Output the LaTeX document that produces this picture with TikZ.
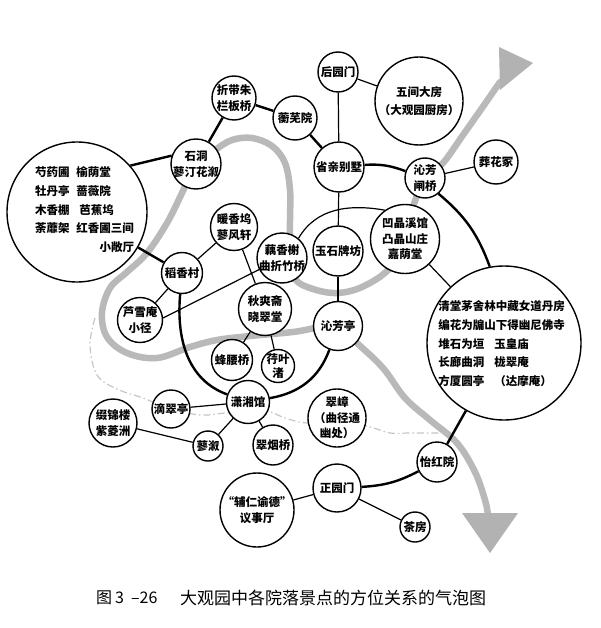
\documentclass[tikz,border=0pt]{standalone}
\usepackage{fontspec}
\newfontfamily\cjk{Noto Sans CJK SC}
\usetikzlibrary{calc}
\tikzset{
 bub/.style={circle, draw, line width=1.4pt, fill=white, inner sep=0pt},
 lbl/.style={align=center, inner sep=0pt, font=\cjk\bfseries\fontsize{11.5}{15.5}\selectfont},
 lnk/.style={line width=1.2pt},
 thk/.style={line width=2.4pt},
 stream/.style={draw=gray!55, line width=6.5pt, line cap=round, line join=round},
 dstream/.style={draw=gray!45, line width=1.2pt, dash pattern=on 7pt off 3pt on 1.5pt off 3pt},
 headfill/.style={fill=gray!60},
}
\newcommand\mybub[5][]{\node[bub, minimum size=#4pt] (#2) at (#3) {}; \node[lbl,#1] (#2-t) at (#2) {#5};}
\begin{document}
\begin{tikzpicture}[x=1pt,y=-1pt]
\fill[white] (0,0) rectangle (600,628);
\path[use as bounding box] (0,0) rectangle (600,628);

% streams
\draw[stream] plot[smooth, tension=0.6] coordinates {(500,82) (482,108) (463,135) (443,163) (425,178) (412,210) (402,245) (388,270) (362,287) (337,293) (313,289) (295,279) (290,255) (290,220) (290,190) (285,163) (272,146) (252,138) (232,140) (215,150) (196,164) (182,193) (167,223) (147,253) (127,272) (110,288) (102,313) (107,337) (127,353) (157,358) (190,347) (217,340) (250,336) (293,332) (338,326) (358,344) (383,368) (405,398) (430,420) (457,443) (475,472) (485,500) (488,515)};
\fill[headfill] (499,47) -- (533,63) -- (500,90) -- cycle;
\fill[headfill] (462,513) -- (518,513) -- (490,553) -- cycle;
\draw[dstream] plot[smooth, tension=0.6] coordinates {(95,318) (90,345) (97,375) (117,389) (143,398) (171,409) (200,415) (225,413) (250,411) (270,412) (285,418) (307,423) (337,420) (370,427) (390,433) (410,433) (447,433)};

% bubbles
\node[bub, minimum size=140pt] (left) at (77,212) {};
\node[lbl, font=\cjk\bfseries\fontsize{11.5}{18.7}\selectfont] (left-t) at (84.5,210.5) {\begin{tabular}{@{}l@{\hspace{7pt}}l@{}}芍药圃&榆荫堂\\牡丹亭&蔷薇院\\木香棚&\hspace{3pt}芭蕉坞\\荼蘼架&红香圃三间\\\multicolumn{2}{@{}r@{}}{小敞厅}\end{tabular}};
\node[bub, minimum size=154pt] (right) at (504,343) {};
\node[lbl, font=\cjk\bfseries\fontsize{11.5}{18.7}\selectfont] (right-t) at (501.5,344.5) {\begin{tabular}{@{}l@{\hspace{10pt}}l@{}}\multicolumn{2}{@{}l@{}}{清堂茅舍林中藏女道丹房}\\\multicolumn{2}{@{}l@{}}{编花为牖山下得幽尼佛寺}\\堆石为垣&玉皇庙\\长廊曲洞&栊翠庵\\方厦圆亭&（达摩庵）\end{tabular}};

\mybub{houyuanmen}{338,72}{40}{后园门}
\mybub[font=\cjk\bfseries\fontsize{11.5}{18}\selectfont]{wujian}{419,101}{88}{五间大房\\（大观园厨房）}
\mybub{zhedai}{234,98}{44}{折带朱\\栏板桥}
\mybub{hengwu}{295,118}{44}{蘅芜院}
\mybub{shengqin}{339,167}{50}{省亲别墅}
\mybub{shidong}{196,164}{50}{石洞\\蓼汀花溆}
\mybub{zhaqiao}{425,178}{40}{沁芳\\闸桥}
\mybub{zanghua}{496,162}{44}{葬花冢}
\mybub{aojing}{405,239}{69}{凹晶溪馆\\凸晶山庄\\嘉荫堂}
\mybub{yushi}{338,251}{50}{玉石牌坊}
\mybub{nuanxiang}{234,227}{47}{暖香坞\\蓼风轩}
\mybub{ouxiang}{282,258}{50}{藕香榭\\曲折竹桥}
\mybub{daoxiang}{182,273}{41}{稻香村}
\mybub{luxue}{140,320}{45}{芦雪庵\\小径}
\mybub{qiushuang}{265,309}{53}{秋爽斋\\晓翠堂}
\mybub{qinfangting}{338,326}{49}{沁芳亭}
\mybub{fengyao}{232,360}{41}{蜂腰桥}
\mybub[font=\cjk\bfseries\fontsize{11.5}{14}\selectfont]{xingye}{278,366}{33}{荇叶\\渚}
\mybub{xiaoxiang}{248,402}{43}{潇湘馆}
\mybub{dicui}{171,409}{38}{滴翠亭}
\mybub{zhuijin}{113,423}{48}{缀锦楼\\紫菱洲}
\mybub{liaoxu}{208,446}{30}{蓼溆}
\mybub{cuiyan}{273,445}{40}{翠烟桥}
\mybub{cuizhang}{337,418}{58}{翠嶂\\（曲径通\\幽处）}
\mybub{yihong}{437,462}{40}{怡红院}
\mybub{zhengyuan}{337,488}{48}{正园门}
\mybub{chafang}{415,527}{30}{茶房}
\mybub{furen}{257,510}{74}{“辅仁谕德”\\议事厅}

% thick connectors
\draw[thk] (left.41) -- (shidong.161);
\draw[thk] (left) -- (daoxiang);
\draw[thk] (shidong) -- (zhedai);
\draw[thk] (zhedai) -- (hengwu);
\draw[thk] (hengwu) -- (shengqin);
\draw[thk] (shengqin) to[bend left=12] (zhaqiao);
\draw[thk] (zhaqiao) to[bend left=15] (right);
\draw[thk] (right) -- (yihong);
\draw[thk] (yihong) to[bend left=12] (zhengyuan);
\draw[thk] (daoxiang) to[out=-95, in=160] (xiaoxiang);
\draw[thk] (xiaoxiang) to[out=10, in=-110] (qinfangting);

% thin connectors
\draw[lnk] (houyuanmen) -- (shengqin);
\draw[lnk] (houyuanmen) -- (wujian);
\draw[lnk] (zhaqiao) -- (zanghua);
\draw[lnk] (shengqin) -- (yushi);
\draw[lnk] (yushi) -- (qinfangting);
\draw[lnk] (aojing) -- (right);
\draw[lnk] (ouxiang.50) to[out=60, in=170] (aojing.125);
\draw[lnk] (daoxiang) -- (nuanxiang);
\draw[lnk] (daoxiang) -- (luxue);
\draw[lnk] (luxue.5) -- (ouxiang);
\draw[lnk] (nuanxiang) -- (qiushuang);
\draw[lnk] (qiushuang) -- (fengyao);
\draw[lnk] (qiushuang) -- (xingye);
\draw[lnk] (xiaoxiang) -- (dicui);
\draw[lnk] (xiaoxiang) -- (liaoxu);
\draw[lnk] (xiaoxiang) -- (cuiyan);
\draw[lnk] (zhuijin) -- (liaoxu);
\draw[lnk] (zhengyuan) -- (furen);
\draw[lnk] (zhengyuan) -- (chafang);

% caption
\node[anchor=west, inner sep=0pt, font=\cjk\fontsize{16}{16}\selectfont] (capnum) at (96,598) {图\hspace{3pt}3\hspace{7pt}–26};
\node[anchor=west, inner sep=0pt, font=\cjk\fontsize{17}{17}\selectfont] (captitle) at (180,598) {大观园中各院落景点的方位关系的气泡图};
\end{tikzpicture}
\end{document}
